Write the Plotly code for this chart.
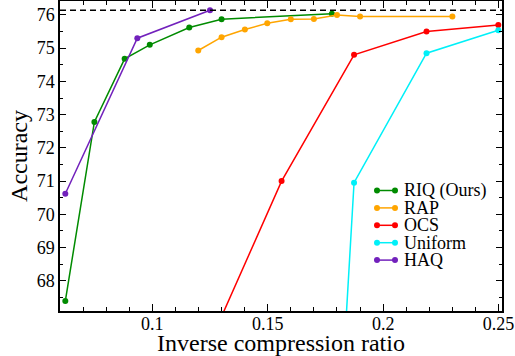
import plotly.graph_objects as go

baseline = 76.14

riq_x = [0.0623, 0.0749, 0.0880, 0.0989, 0.1160, 0.1300, 0.1778]
riq_y = [67.39, 72.78, 74.68, 75.10, 75.62, 75.87, 76.04]

rap_x = [0.1199, 0.1300, 0.1401, 0.1498, 0.1600, 0.1700, 0.1800, 0.1900, 0.2300]
rap_y = [74.93, 75.33, 75.56, 75.75, 75.87, 75.88, 76.00, 75.95, 75.95]

ocs_x = [0.1250, 0.1560, 0.1874, 0.2188, 0.2499]
ocs_y = [66.14, 71.00, 74.80, 75.50, 75.70]

uni_x = [0.1830, 0.1874, 0.2188, 0.2499]
uni_y = [65.72, 70.95, 74.85, 75.54]

haq_x = [0.0623, 0.0935, 0.1250]
haq_y = [70.62, 75.30, 76.14]

names = ["RIQ (Ours)", "RAP", "OCS", "Uniform", "HAQ"]
colors = ["#008b00", "#ffa500", "#ff0000", "#00f0f8", "#7221bc"]
xs_all = [riq_x, rap_x, ocs_x, uni_x, haq_x]
ys_all = [riq_y, rap_y, ocs_y, uni_y, haq_y]

FONT = "Liberation Serif"

fig = go.Figure()
for name, xs, ys, c in zip(names, xs_all, ys_all, colors):
    fig.add_trace(go.Scatter(x=xs, y=ys, name=name, mode="lines+markers",
                             line=dict(color=c, width=1.5),
                             marker=dict(color=c, size=6),
                             showlegend=False))

fig.add_shape(type="line", xref="paper", x0=0, x1=1, yref="y", y0=baseline, y1=baseline,
              line=dict(color="black", width=1.5, dash="6px,4px"))

L0, L1, TX, ROW0, DROW = 377, 395, 403, 190.5, 17.4
for i, (name, c) in enumerate(zip(names, colors)):
    yy = ROW0 + i * DROW
    fig.add_trace(go.Scatter(x=[L0, L1], y=[yy, yy], xaxis="x2", yaxis="y2",
                             mode="lines+markers", line=dict(color=c, width=1.5),
                             marker=dict(color=c, size=6), showlegend=False,
                             hoverinfo="skip"))
    fig.add_annotation(x=TX, y=yy, xref="x2", yref="y2", text=name, showarrow=False,
                       xanchor="left", yanchor="middle", borderpad=0,
                       font=dict(family=FONT, size=18, color="black"))

fig.update_layout(
    template="none",
    width=515, height=356,
    margin=dict(l=60, r=13, t=1, b=45),
    paper_bgcolor="white", plot_bgcolor="white",
    font=dict(family=FONT, color="black", size=18),
    showlegend=False,
    xaxis=dict(range=[0.06, 0.2515], tickmode="array",
               tickvals=[0.1, 0.15, 0.2, 0.25], ticktext=["0.1", "0.15", "0.2", "0.25"],
               ticks="inside", ticklen=7, tickwidth=1.2, tickcolor="black",
               ticklabelstandoff=-4,
               showline=True, linecolor="black", linewidth=1.5, mirror="allticks",
               showgrid=False, zeroline=False,
               minor=dict(dtick=0.01, tick0=0, ticks="inside", ticklen=4, tickcolor="black", tickwidth=1),
               tickfont=dict(family=FONT, size=18),
               title=dict(text="Inverse compression ratio", font=dict(family=FONT, size=24), standoff=3)),
    yaxis=dict(range=[67.09, 76.42], tickmode="array",
               tickvals=[68, 69, 70, 71, 72, 73, 74, 75, 76],
               ticks="inside", ticklen=6, tickwidth=1.2, tickcolor="black",
               showline=True, linecolor="black", linewidth=1.5, mirror="allticks",
               showgrid=False, zeroline=False,
               minor=dict(dtick=0.5, tick0=0, ticks="inside", ticklen=3.5, tickcolor="black", tickwidth=1),
               tickfont=dict(family=FONT, size=18),
               title=dict(text="Accuracy", font=dict(family=FONT, size=24), standoff=2)),
    xaxis2=dict(overlaying="x", range=[60, 502], visible=False, fixedrange=True),
    yaxis2=dict(overlaying="y", range=[311, 1], visible=False, fixedrange=True),
)

fig.write_html("out.html")
